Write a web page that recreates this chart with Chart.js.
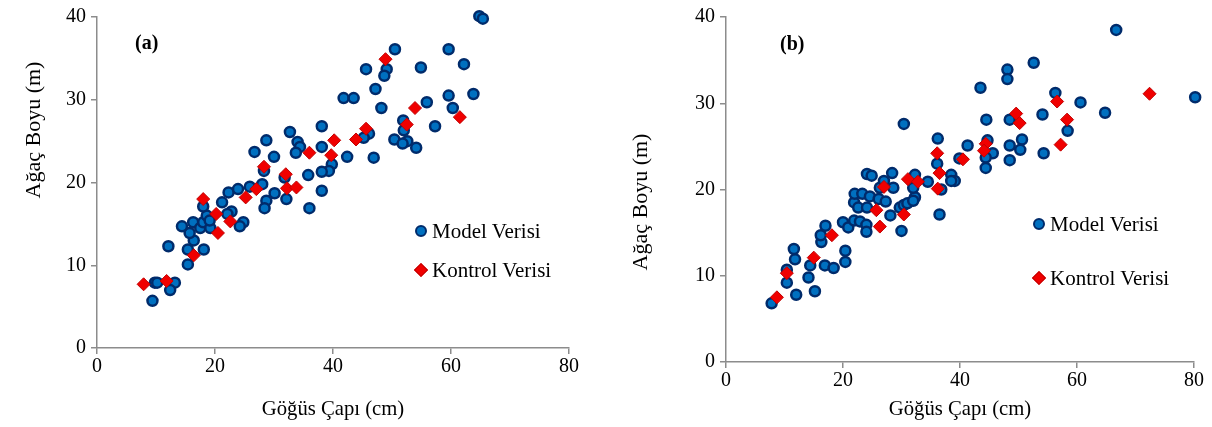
<!DOCTYPE html>
<html>
<head>
<meta charset="utf-8">
<script src="https://cdn.jsdelivr.net/npm/chart.js@4.4.0/dist/chart.umd.min.js"></script>
<style>
  body { margin: 0; background: #fff; }
  #wrap { position: relative; width: 1212px; height: 427px; font-family: "Liberation Serif", "Times New Roman", serif; color: #000; }
  canvas { position: absolute; top: 0; }
  .panel { position: absolute; font-size: 20px; font-weight: bold; line-height: 24px; }
  .ytitle { position: absolute; width: 200px; height: 26px; line-height: 26px; text-align: center; font-size: 22px; transform: rotate(-90deg); white-space: nowrap; }
  .leg { position: absolute; font-size: 21px; line-height: 24px; height: 24px; white-space: nowrap; display: flex; align-items: center; }
  .dot { width: 8px; height: 8px; border-radius: 50%; background: #0070c0; border: 2px solid #002b6b; margin-right: 5px; }
  .dia { width: 8px; height: 8px; background: #f00000; border: 1px solid #c00000; transform: rotate(45deg); margin: 0 6px 0 1px; }
</style>
</head>
<body>
<div id="wrap">
  <canvas id="chartA" width="600" height="427" style="left:0"></canvas>
  <canvas id="chartB" width="612" height="427" style="left:600px"></canvas>
  <div class="panel" style="left:135px;top:30px">(a)</div>
  <div class="panel" style="left:780px;top:31px">(b)</div>
  <div class="ytitle" id="ytA" style="left:-67px;top:117px"></div>
  <div class="ytitle" id="ytB" style="left:540px;top:189px"></div>
  <div class="leg" style="left:415px;top:219px"><span class="dot"></span>Model Verisi</div>
  <div class="leg" style="left:415px;top:258px"><span class="dia"></span>Kontrol Verisi</div>
  <div class="leg" style="left:1033px;top:212px"><span class="dot"></span>Model Verisi</div>
  <div class="leg" style="left:1033px;top:266px"><span class="dia"></span>Kontrol Verisi</div>
</div>
<script>
// tick values
var xTicks = [0, 20, 40, 60, 80];
var yTicks = [0, 10, 20, 30, 40];
var seriesNames = ['Model Verisi', 'Kontrol Verisi'];
var xTitle = 'Göğüs Çapı (cm)';
var yTitle = 'Ağaç Boyu (m)';

// (a) model data [diameter, height]
var modelA = [
  [9.4,5.7],[9.8,7.9],[10.2,7.9],[13.2,7.9],[12.4,7.0],[12.1,12.3],[15.4,10.1],[15.4,11.9],[18.1,11.9],
  [16.4,13.0],[15.7,13.9],[14.4,14.7],[16.3,15.2],[17.5,14.5],[18.0,15.2],[18.6,16.0],[19.2,14.5],[19.1,15.4],
  [18.0,17.1],[21.2,17.6],[22.3,18.8],[23.9,19.2],[25.9,19.5],[22.8,16.5],[22.1,16.2],[24.8,15.2],[24.2,14.7],
  [26.7,23.7],[28.7,25.1],[32.7,26.1],[38.1,26.8],[34.0,24.9],[34.4,24.3],[33.7,23.6],[38.1,24.3],[30.0,23.1],
  [28.3,21.4],[39.8,22.2],[39.3,21.4],[38.1,21.3],[42.4,23.1],[46.9,23.0],[31.8,20.6],[35.8,20.9],[28.0,19.8],
  [30.1,18.7],[38.1,19.0],[28.7,17.8],[32.1,18.0],[28.4,16.9],[36.0,16.9],
  [64.8,40.1],[65.4,39.8],[50.5,36.1],[59.6,36.1],[45.6,33.7],[49.1,33.7],[48.7,32.9],[54.9,33.9],[62.2,34.3],
  [47.2,31.3],[41.8,30.2],[43.5,30.2],[59.6,30.5],[63.8,30.7],[55.9,29.7],[48.2,29.0],[60.3,29.0],[57.3,26.8],
  [51.9,27.5],[52.0,26.3],[50.4,25.2],[52.6,25.0],[51.8,24.7],[54.1,24.2],[46.1,25.9],[45.2,25.4]
];
// (a) control data
var kontrolA = [
  [7.9,7.7],[11.8,8.1],[16.4,11.2],[18.0,18.0],[20.2,16.2],[20.5,13.9],[22.6,15.3],[25.2,18.2],[27.0,19.2],
  [28.3,21.9],[32.0,21.0],[32.2,19.3],[33.8,19.4],[36.0,23.6],[39.7,23.3],[40.2,25.1],[43.9,25.2],[45.6,26.5],
  [48.9,34.9],[53.9,29.0],[52.5,27.0],[61.5,27.9]
];
// (b) model data
var modelB = [
  [7.8,6.8],[12.0,7.8],[15.2,8.2],[10.4,9.2],[10.4,10.7],[14.1,9.8],[14.4,11.2],[11.8,11.9],[11.6,13.1],
  [16.9,11.2],[18.4,10.9],[20.4,11.6],[20.4,12.9],[16.3,13.9],[16.2,14.7],[17.0,15.8],[20.0,16.2],[20.9,15.6],
  [21.9,16.4],[22.9,16.3],[24.0,15.9],[24.0,15.1],[30.0,15.2],[28.1,17.0],[29.7,17.9],[30.4,18.2],[31.0,18.4],
  [21.9,18.5],[22.6,17.9],[24.1,17.9],[22.0,19.5],[23.3,19.5],[24.6,19.2],[26.1,18.9],[27.3,18.6],[26.3,20.2],
  [27.0,21.0],[28.6,20.2],[24.1,21.8],[24.9,21.6],[28.4,21.9],[32.3,19.1],[34.5,20.9],[32.3,21.7],[32.0,20.2],
  [32.0,18.7],[30.4,27.6],[36.2,25.9],[41.3,25.1],[44.5,28.1],[48.5,28.1],[54.1,28.7],[60.6,30.1],[58.4,26.8],
  [54.3,24.2],[50.6,25.8],[50.3,24.6],[48.5,25.1],[48.5,23.4],[44.7,25.7],[45.6,24.2],[44.4,23.7],[44.4,22.5],
  [39.9,23.6],[36.1,23.0],[38.5,21.7],[39.1,21.0],[38.5,21.0],[36.8,20.0],[36.5,17.1],
  [66.7,38.5],[52.6,34.7],[48.1,33.9],[48.1,32.8],[43.5,31.8],[80.2,30.7],[64.8,28.9],[56.3,31.2]
];
// (b) control data
var kontrolB = [
  [8.7,7.5],[10.4,10.3],[15.0,12.1],[18.1,14.7],[26.3,15.7],[25.7,17.6],[30.4,17.1],[27.0,20.3],[31.1,21.2],
  [32.8,20.9],[36.1,24.2],[36.5,21.9],[36.2,20.1],[40.5,23.5],[44.4,25.3],[44.1,24.5],[49.6,28.8],[50.2,27.7],
  [56.6,30.2],[58.3,28.1],[57.2,25.2],[72.4,31.1]
];

document.getElementById('ytA').textContent = yTitle;
document.getElementById('ytB').textContent = yTitle;

var axisColor = '#8c8c8c';
var font = { family: '"Liberation Serif", "Times New Roman", serif', size: 20 };
var titleFont = { family: '"Liberation Serif", "Times New Roman", serif', size: 20.7 };

function toPoints(arr) {
  return arr.map(function (p) { return { x: p[0], y: p[1] }; });
}

function tickList(vals) {
  return function (scale) {
    scale.ticks = vals.map(function (v) { return { value: v }; });
  };
}

function makeChart(id, model, kontrol, box) {
  return new Chart(document.getElementById(id), {
    type: 'scatter',
    data: {
      datasets: [{
        label: seriesNames[0],
        data: toPoints(model),
        order: 1,
        clip: false,
        pointStyle: 'circle',
        pointRadius: 5,
        pointBorderWidth: 2.5,
        backgroundColor: '#0070c0',
        borderColor: '#002b6b'
      }, {
        label: seriesNames[1],
        data: toPoints(kontrol),
        order: 0,
        clip: false,
        pointStyle: 'rectRot',
        pointRadius: 6.5,
        pointBorderWidth: 1,
        backgroundColor: '#f00000',
        borderColor: '#c00000'
      }]
    },
    options: {
      responsive: false,
      animation: false,
      layout: { padding: { top: box.top, right: box.right, left: 0, bottom: 0 } },
      plugins: { legend: { display: false }, tooltip: { enabled: false } },
      scales: {
        x: {
          type: 'linear', min: 0, max: 80,
          afterBuildTicks: tickList(xTicks),
          afterFit: function (s) { s.height = box.xh; },
          grid: { drawOnChartArea: false, drawTicks: true, tickLength: 6, color: axisColor, lineWidth: 1.5 },
          border: { display: true, color: axisColor, width: 1.5 },
          ticks: { color: '#000', font: font, padding: 1, maxRotation: 0 },
          title: { display: true, text: xTitle, color: '#000', font: titleFont, padding: { top: 0, bottom: 5 } }
        },
        y: {
          type: 'linear', min: 0, max: 40,
          afterBuildTicks: tickList(yTicks),
          afterFit: function (s) { s.width = box.yw; },
          grid: { drawOnChartArea: false, drawTicks: true, tickLength: 6, color: axisColor, lineWidth: 1.5 },
          border: { display: true, color: axisColor, width: 1.5 },
          ticks: { color: '#000', font: font, padding: 5 }
        }
      }
    }
  });
}

makeChart('chartA', modelA, kontrolA, { top: 16, right: 31, yw: 97, xh: 79 });
makeChart('chartB', modelB, kontrolB, { top: 13, right: 18, yw: 126, xh: 65 });
</script>
</body>
</html>
